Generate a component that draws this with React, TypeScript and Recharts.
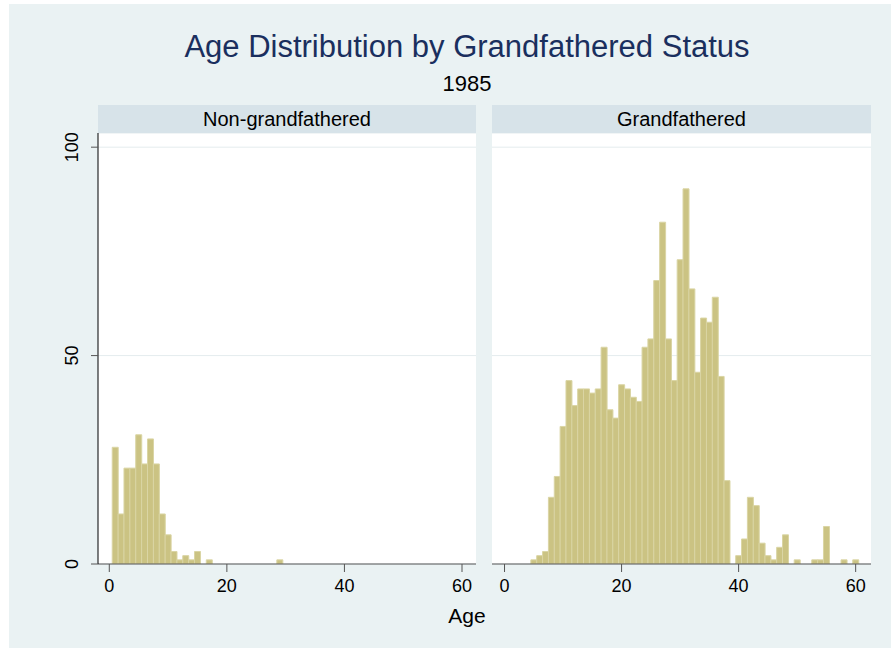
import React from 'react'
import { BarChart, Bar, XAxis, YAxis, CartesianGrid } from 'recharts'

// ages 0..60, one bin per year
const ages = [
  0, 1, 2, 3, 4, 5, 6, 7, 8, 9, 10, 11, 12, 13, 14, 15, 16, 17, 18, 19, 20,
  21, 22, 23, 24, 25, 26, 27, 28, 29, 30, 31, 32, 33, 34, 35, 36, 37, 38, 39, 40,
  41, 42, 43, 44, 45, 46, 47, 48, 49, 50, 51, 52, 53, 54, 55, 56, 57, 58, 59, 60,
]

const nonGrandCounts = [
  0, 28, 12, 23, 23, 31, 24, 30, 24, 12, 7, 3, 1, 2, 1, 3, 0, 1, 0, 0, 0,
  0, 0, 0, 0, 0, 0, 0, 0, 1, 0, 0, 0, 0, 0, 0, 0, 0, 0, 0, 0,
  0, 0, 0, 0, 0, 0, 0, 0, 0, 0, 0, 0, 0, 0, 0, 0, 0, 0, 0, 0,
]

const grandCounts = [
  0, 0, 0, 0, 0, 1, 2, 3, 16, 21, 33, 44, 38, 42, 42, 41, 42, 52, 37, 35, 43,
  42, 40, 39, 52, 54, 68, 82, 54, 44, 73, 90, 66, 46, 59, 58, 64, 45, 20, 0, 2,
  6, 16, 14, 5, 2, 1, 4, 7, 0, 1, 0, 0, 1, 1, 9, 0, 0, 1, 0, 1,
]

const xTicks = [0, 20, 40, 60]
const yTicks = [0, 50, 100]

const FONT = '"Liberation Sans", Arial, sans-serif'
const BG = '#eaf2f3'
const HEADER_BG = '#d7e3e9'
const BAR_FILL = '#cbc383'
const BAR_STROKE = '#dad5a4'
const AXIS = '#555555'

const nonGrandData = ages.map((age, i) => ({ age, count: nonGrandCounts[i] }))
const grandData = ages.map((age, i) => ({ age, count: grandCounts[i] }))

function YTick(props: any) {
  const { x, y, payload } = props
  return (
    <text
      x={x}
      y={y}
      transform={`rotate(-90, ${x}, ${y})`}
      textAnchor="middle"
      fontSize={18}
      fontFamily={FONT}
      fill="#000"
    >
      {payload.value}
    </text>
  )
}

type PanelProps = {
  data: { age: number; count: number }[]
  showY: boolean
  width: number
  domain: [number, number]
}

function Panel({ data, showY, width, domain }: PanelProps) {
  return (
    <BarChart
      width={width}
      height={471}
      data={data}
      margin={{ top: 0, right: 0, left: 0, bottom: 0 }}
      barCategoryGap={0}
      barGap={0}
    >
      <CartesianGrid vertical={false} fill="#ffffff" stroke="#e4ecee" strokeWidth={1} />
      <XAxis
        type="number"
        dataKey="age"
        domain={domain}
        ticks={xTicks}
        allowDataOverflow
        height={40}
        tickSize={8}
        tickMargin={7}
        stroke={AXIS}
        tick={{ fontSize: 18, fontFamily: FONT, fill: '#000' }}
      />
      <YAxis
        type="number"
        domain={[0, 103.4]}
        ticks={yTicks}
        allowDataOverflow
        hide={!showY}
        width={58}
        tickSize={7}
        tickMargin={13}
        stroke="#000"
        tickLine={{ stroke: AXIS }}
        tick={<YTick />}
      />
      <Bar dataKey="count" fill={BAR_FILL} stroke={BAR_STROKE} strokeWidth={1} isAnimationActive={false} />
    </BarChart>
  )
}

export default function App() {
  const header: React.CSSProperties = {
    position: 'absolute',
    top: 101,
    height: 28,
    background: HEADER_BG,
    display: 'flex',
    alignItems: 'center',
    justifyContent: 'center',
    fontSize: 20,
    fontFamily: FONT,
    color: '#000',
  }
  return (
    <div
      style={{
        position: 'absolute',
        left: 9,
        top: 4,
        width: 882,
        height: 644,
        background: BG,
        fontFamily: FONT,
      }}
    >
      <div
        style={{
          position: 'absolute',
          left: 158,
          width: 600,
          top: 27,
          textAlign: 'center',
          fontSize: 31,
          lineHeight: 1,
          color: '#1a2f5e',
        }}
      >
        Age Distribution by Grandfathered Status
      </div>
      <div
        style={{
          position: 'absolute',
          left: 158,
          width: 600,
          top: 69,
          textAlign: 'center',
          fontSize: 22,
          lineHeight: 1,
          color: '#000',
        }}
      >
        1985
      </div>

      <div style={{ ...header, left: 89, width: 378 }}>Non-grandfathered</div>
      <div style={{ ...header, left: 483, width: 379 }}>Grandfathered</div>

      <div style={{ position: 'absolute', left: 31, top: 129 }}>
        <Panel data={nonGrandData} showY width={436} domain={[-1.92, 62.38]} />
      </div>
      <div style={{ position: 'absolute', left: 483, top: 129 }}>
        <Panel data={grandData} showY={false} width={379} domain={[-2.14, 62.62]} />
      </div>

      <div
        style={{
          position: 'absolute',
          left: 358,
          width: 200,
          top: 601,
          textAlign: 'center',
          fontSize: 21,
          lineHeight: 1,
          color: '#000',
        }}
      >
        Age
      </div>
    </div>
  )
}
